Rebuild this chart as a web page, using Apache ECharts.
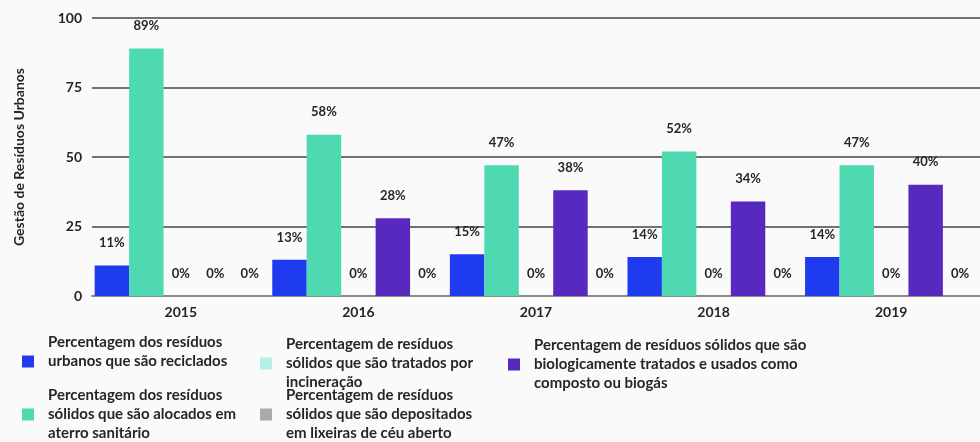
<!DOCTYPE html>
<html>
<head>
<meta charset="utf-8">
<script src="https://cdn.jsdelivr.net/npm/echarts@6/dist/echarts.min.js"></script>
<style>
  html, body { margin: 0; padding: 0; background: #fafafa; }
  #chart { width: 980px; height: 442px; }
</style>
</head>
<body>
<div id="chart"></div>
<script>
// Years on the category axis
const years = ['2015', '2016', '2017', '2018', '2019'];
// Y-axis ticks
const yTicks = [0, 25, 50, 75, 100];

// Series names (full) and their wrapped legend text
const nameReciclados = 'Percentagem dos resíduos urbanos que são reciclados';
const nameAterro = 'Percentagem dos resíduos sólidos que são alocados em aterro sanitário';
const nameIncineracao = 'Percentagem de resíduos sólidos que são tratados por incineração';
const nameBiologico = 'Percentagem de resíduos sólidos que são biologicamente tratados e usados como composto ou biogás';
const nameLixeiras = 'Percentagem de resíduos sólidos que são depositados em lixeiras de céu aberto';

const wrapReciclados = 'Percentagem dos resíduos\nurbanos que são reciclados\n ';
const wrapAterro = 'Percentagem dos resíduos\nsólidos que são alocados em\naterro sanitário';
const wrapIncineracao = 'Percentagem de resíduos\nsólidos que são tratados por\nincineração';
const wrapBiologico = 'Percentagem de resíduos sólidos que são\nbiologicamente tratados e usados como\ncomposto ou biogás';
const wrapLixeiras = 'Percentagem de resíduos\nsólidos que são depositados\nem lixeiras de céu aberto';

// Values (%) per year
const reciclados = [11, 13, 15, 14, 14];
const aterro = [89, 58, 47, 52, 47];
const incineracao = [0, 0, 0, 0, 0];
const biologico = [0, 28, 38, 34, 40];
const lixeiras = [0, 0, 0, 0, 0];

const colors = {
  reciclados: '#1f3bef',
  aterro: '#4fd9b1',
  incineracao: '#b3f0e6',
  biologico: '#5829bf',
  lixeiras: '#aaaaaa'
};

const wrapped = {};
wrapped[nameReciclados] = wrapReciclados;
wrapped[nameAterro] = wrapAterro;
wrapped[nameIncineracao] = wrapIncineracao;
wrapped[nameBiologico] = wrapBiologico;
wrapped[nameLixeiras] = wrapLixeiras;

const FONT = 'Lato';
const WEIGHT = 'bold';
const TEXT = '#262626';

function barSeries(name, data, color) {
  return {
    name: name,
    type: 'bar',
    data: data,
    itemStyle: { color: color },
    barGap: '0%',
    barCategoryGap: '3%',
    label: {
      show: true,
      position: 'top',
      distance: 16,
      formatter: '{c}%',
      fontFamily: FONT,
      fontWeight: WEIGHT,
      fontSize: 13,
      color: TEXT
    }
  };
}

function legendAt(name, left, top) {
  return {
    data: [name],
    left: left,
    top: top,
    padding: 0,
    orient: 'vertical',
    itemWidth: 12,
    itemHeight: 12,
    icon: 'rect',
    selectedMode: false,
    formatter: function (n) { return wrapped[n]; },
    textStyle: {
      fontFamily: FONT,
      fontWeight: WEIGHT,
      fontSize: 15,
      lineHeight: 19,
      color: TEXT,
      padding: [0, 0, 0, 9]
    }
  };
}

const chart = echarts.init(document.getElementById('chart'), null, { renderer: 'canvas' });

chart.setOption({
  backgroundColor: '#fafafa',
  animation: false,
  grid: { left: 92, right: -4, top: 18, bottom: 146, containLabel: false },
  legend: [
    legendAt(nameReciclados, 22, 333),
    legendAt(nameAterro, 22, 386),
    legendAt(nameIncineracao, 260, 335),
    legendAt(nameLixeiras, 260, 386),
    legendAt(nameBiologico, 508, 336)
  ],
  xAxis: {
    type: 'category',
    data: years,
    axisLine: { lineStyle: { color: '#8a8a8a', width: 2 } },
    axisTick: { show: false },
    axisLabel: {
      fontFamily: FONT,
      fontWeight: WEIGHT,
      fontSize: 14,
      color: TEXT,
      margin: 9
    }
  },
  yAxis: {
    type: 'value',
    min: yTicks[0],
    max: yTicks[yTicks.length - 1],
    interval: 25,
    name: 'Gestão de Resíduos Urbanos',
    nameLocation: 'middle',
    nameGap: 66,
    nameTextStyle: {
      fontFamily: FONT,
      fontWeight: WEIGHT,
      fontSize: 14,
      color: TEXT
    },
    axisLine: { show: false },
    axisTick: { show: false },
    axisLabel: {
      fontFamily: FONT,
      fontWeight: WEIGHT,
      fontSize: 14,
      color: TEXT,
      margin: 10
    },
    splitLine: { lineStyle: { color: '#444444', width: 1.5 } }
  },
  series: [
    barSeries(nameReciclados, reciclados, colors.reciclados),
    barSeries(nameAterro, aterro, colors.aterro),
    barSeries(nameIncineracao, incineracao, colors.incineracao),
    barSeries(nameBiologico, biologico, colors.biologico),
    barSeries(nameLixeiras, lixeiras, colors.lixeiras)
  ]
});
</script>
</body>
</html>
